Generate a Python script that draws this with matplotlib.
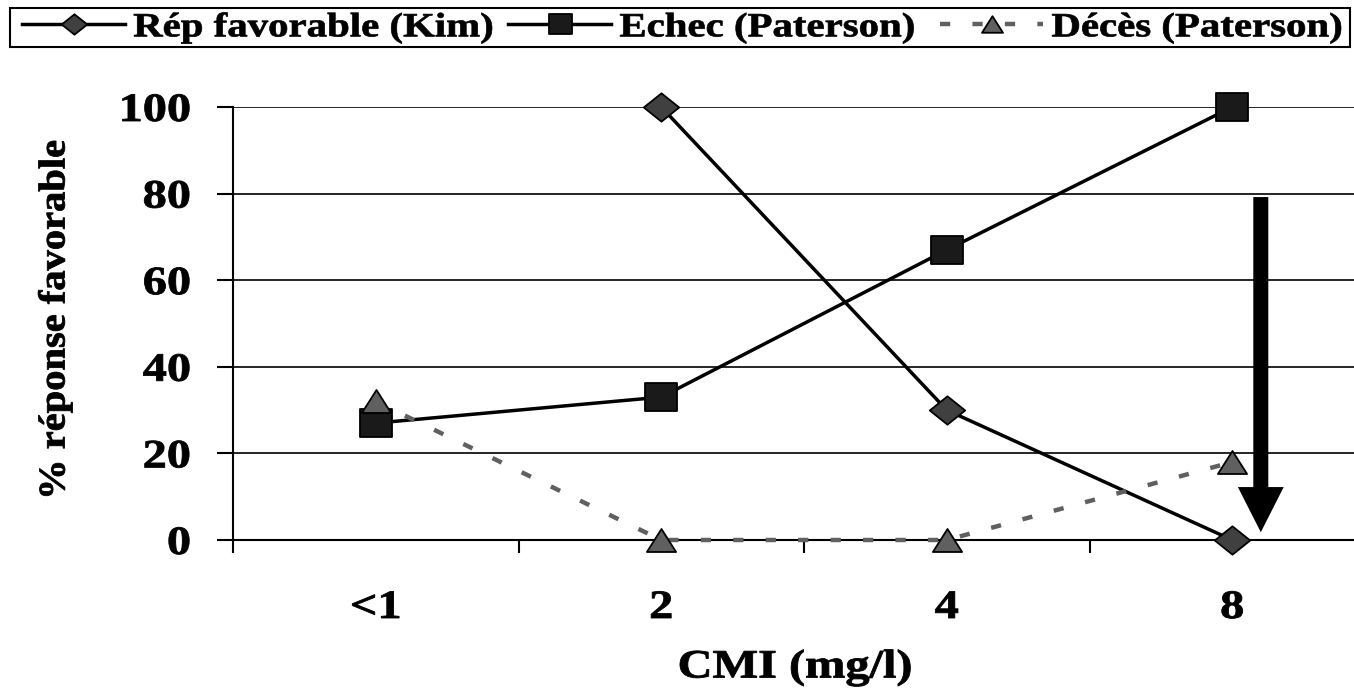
import numpy as np
import matplotlib
matplotlib.use('Agg')
import matplotlib.pyplot as plt
from matplotlib.patheffects import AbstractPathEffect
from matplotlib.transforms import Affine2D
from matplotlib.path import Path
from matplotlib.patches import Rectangle

# ---------------- data ----------------
categories = ['<1', '2', '4', '8']
rep_favorable_kim = [np.nan, 100, 30, 0]
echec_paterson = [27, 33, 67, 100]
deces_paterson = [32, 0, 0, 18]
y_ticks = [0, 20, 40, 60, 80, 100]
series_labels = ['Rép favorable (Kim)', 'Echec (Paterson)', 'Décès (Paterson)']
x_label = 'CMI (mg/l)'
y_label = '% réponse favorable'

# ---------------- style helpers ----------------
W, H = 1354, 692
SX = 1.2  # horizontal stretch of the original lettering


class Stretch(AbstractPathEffect):
    """Scale the rendered text path around an anchor (screen space),
    optionally thickening it with a stroke of the same colour."""

    def __init__(self, sx=1.0, sy=1.0, anchor='center', stroke=0.0):
        super().__init__()
        self.sx, self.sy, self.anchor, self.stroke = sx, sy, anchor, stroke

    def draw_path(self, renderer, gc, tpath, affine, rgbFace=None):
        ext = tpath.get_extents(affine)
        if self.anchor == 'left':
            ax_ = ext.x0
        elif self.anchor == 'right':
            ax_ = ext.x1
        else:
            ax_ = 0.5 * (ext.x0 + ext.x1)
        ay = 0.5 * (ext.y0 + ext.y1)
        t = affine + Affine2D().translate(-ax_, -ay).scale(self.sx, self.sy).translate(ax_, ay)
        if self.stroke > 0 and rgbFace is not None:
            gc0 = renderer.new_gc()
            gc0.copy_properties(gc)
            gc0.set_linewidth(self.stroke)
            gc0.set_foreground(rgbFace)
            renderer.draw_path(gc0, tpath, t, rgbFace)
            gc0.restore()
        else:
            renderer.draw_path(gc, tpath, t, rgbFace)


def closed(verts):
    verts = list(verts) + [verts[0]]
    codes = [Path.MOVETO] + [Path.LINETO] * (len(verts) - 2) + [Path.CLOSEPOLY]
    return Path(verts, codes)


diamond = closed([(-1.25, 0), (0, 1), (1.25, 0), (0, -1)])
square = closed([(-1.15, -1), (1.15, -1), (1.15, 1), (-1.15, 1)])
triangle = closed([(-1.27, -1), (1.27, -1), (0, 1)])

FONT = 'Liberation Serif'
plt.rcParams['font.family'] = [FONT, 'DejaVu Serif']
plt.rcParams['font.weight'] = 'bold'

fig = plt.figure(figsize=(W / 100, H / 100), dpi=100)
fig.patch.set_facecolor('white')
ax = fig.add_axes([233 / W, 152 / H, 1142 / W, 433 / H])

x = np.arange(len(categories))

l1, = ax.plot(x, rep_favorable_kim, color='black', lw=2.5, marker=diamond, ms=25.5,
              mfc='#404040', mec='black', mew=1.3, clip_on=False, zorder=4)
l2, = ax.plot(x, echec_paterson, color='black', lw=2.5, marker=square, ms=23,
              mfc='#1a1a1a', mec='black', mew=1.3, clip_on=False, zorder=4)
l3, = ax.plot(x, deces_paterson, color='#606060', lw=3.2, dashes=(2.3, 5.0),
              dash_capstyle='butt', marker=triangle, ms=21,
              mfc='#606060', mec='black', mew=1.3, clip_on=False, zorder=5)

# big arrow annotation
ARROW_X, ARROW_TOP, ARROW_TIP = 3.10, 79.2, 1.8
ax.annotate('', xy=(ARROW_X, ARROW_TIP), xytext=(ARROW_X, ARROW_TOP),
            arrowprops=dict(arrowstyle='simple,head_length=3.25,head_width=3.3,tail_width=1.08',
                            mutation_scale=10, fc='black', ec='none', lw=0,
                            shrinkA=0, shrinkB=0), zorder=6, annotation_clip=False)

# axes
ax.set_xlim(-0.5, len(categories) - 0.5)
ax.set_ylim(0, 100)
ax.set_yticks(y_ticks)
ax.set_xticks(x)
ax.set_xticklabels(categories)
ax.set_xticks(np.arange(-0.5, len(categories), 1.0), minor=True)
ax.tick_params(axis='x', which='major', length=0, pad=36, labelsize=29)
ax.tick_params(axis='x', which='minor', length=9, width=1.5, direction='out', color='black')
ax.tick_params(axis='y', which='major', length=11.5, width=1.5, direction='out', pad=19,
               labelsize=29, color='black')

for lab in ax.get_xticklabels():
    lab.set_fontweight('bold')
    lab.set_path_effects([Stretch(SX, 1, 'center', stroke=0.6)])
for lab in ax.get_yticklabels():
    lab.set_fontweight('bold')
    lab.set_path_effects([Stretch(SX, 1, 'right', stroke=0.6)])

ax.yaxis.grid(True, color='black', lw=1.2)
ax.set_axisbelow(True)
for s in ['top', 'right']:
    ax.spines[s].set_visible(False)
ax.spines['left'].set_linewidth(1.5)
ax.spines['bottom'].set_linewidth(1.5)

ax.set_xlabel(x_label, fontsize=29, fontweight='bold')
ax.xaxis.label.set_va('center')
ax.xaxis.set_label_coords((795 - 233) / 1142, (540 - 668) / 433)
ax.xaxis.label.set_path_effects([Stretch(SX, 1, 'center', stroke=0.6)])

ax.set_ylabel(y_label, fontsize=27, fontweight='bold')
ax.yaxis.label.set_va('center')
ax.yaxis.set_label_coords((55 - 233) / 1142, (540 - 320) / 433)
ax.yaxis.label.set_path_effects([Stretch(1, 1.08, 'center', stroke=0.6)])

# legend
LEG_FS = 24.5
leg = fig.legend(handles=[l1, l2, l3], labels=series_labels, loc='center left',
                 bbox_to_anchor=(22 / W, 1 - 28 / H), ncol=3, frameon=False,
                 prop={'family': FONT, 'weight': 'bold', 'size': LEG_FS},
                 handlelength=3.03, handletextpad=0.24, columnspacing=2.2,
                 borderpad=0, borderaxespad=0, markerscale=0.72)
for t in leg.get_texts():
    t.set_path_effects([Stretch(SX, 1, 'left', stroke=0.5)])

fig.patches.append(Rectangle((10 / W, 1 - 47 / H), 1340 / W, 39 / H,
                             transform=fig.transFigure, fill=False,
                             ec='black', lw=1.5))

fig.savefig('out.png', dpi=100, facecolor='white')
